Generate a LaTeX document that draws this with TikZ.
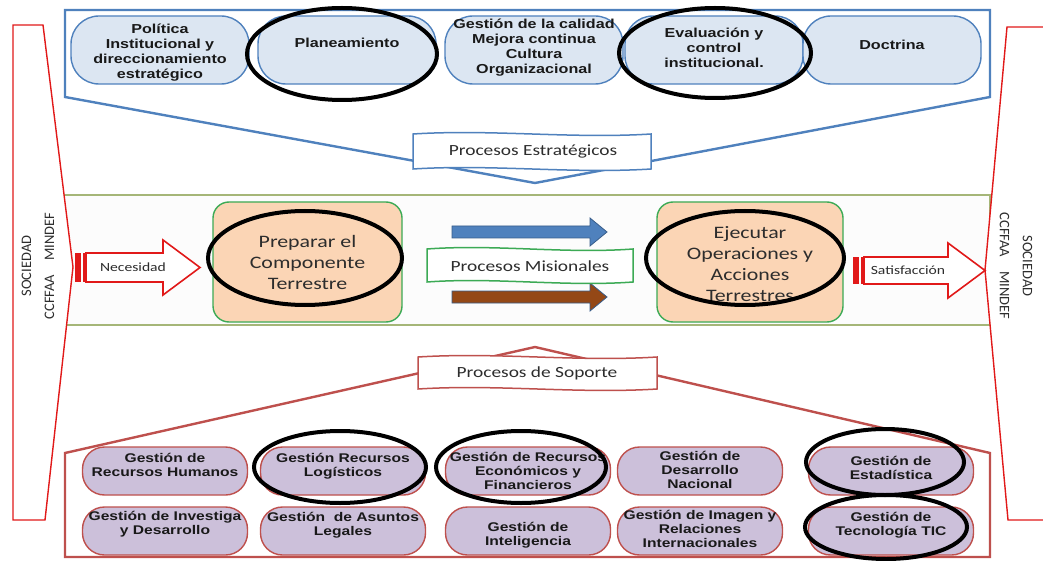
\documentclass[tikz,border=0pt]{standalone}
\usepackage{fontspec}
\setmainfont{Liberation Sans}
\newfontfamily\boxfont[FakeStretch=1.24]{Liberation Sans}
\newfontfamily\calfont[FakeStretch=1.25]{Carlito}
\newfontfamily\vertfont{Carlito}
\usetikzlibrary{shapes.geometric}

\definecolor{stratblue}{RGB}{79,129,189}
\definecolor{stratfill}{RGB}{220,230,242}
\definecolor{bandline}{RGB}{165,182,120}
\definecolor{misgreen}{RGB}{60,170,85}
\definecolor{peach}{RGB}{251,213,181}
\definecolor{sidered}{RGB}{225,25,25}
\definecolor{suprt}{RGB}{190,80,77}
\definecolor{lilac}{RGB}{204,192,218}
\definecolor{arrblue}{RGB}{79,129,189}
\definecolor{arrblueline}{RGB}{56,93,138}
\definecolor{arrbrown}{RGB}{148,72,22}
\definecolor{txtgray}{RGB}{45,45,45}

% wavy banner outline: left x, top y, right x, bottom y, wave amplitude
\newcommand\bannerpath[5]{%
  (#1,#2) .. controls ({#1+(#3-#1)/3},{#2-2*#5}) and ({#1+2*(#3-#1)/3},{#2+2*#5}) .. (#3,#2)
  -- (#3,#4) .. controls ({#1+2*(#3-#1)/3},{#4+2*#5}) and ({#1+(#3-#1)/3},{#4-2*#5}) .. (#1,#4) -- cycle}

\begin{document}
\begin{tikzpicture}[x=1pt,y=-1pt,
  stratbox/.style={draw=stratblue, line width=1.4pt, fill=stratfill,
    rounded corners=28pt, minimum width=178pt, minimum height=68pt, inner sep=0pt},
  stext/.style={font={\boxfont\bfseries\fontsize{13}{15}\selectfont},
    align=center, text=black!90, inner sep=0pt},
  supbox/.style={draw=suprt, line width=1.4pt, fill=lilac,
    rounded corners=22pt, minimum width=165pt, minimum height=48pt, inner sep=0pt},
  suptext/.style={font={\boxfont\bfseries\fontsize{12.6}{13.6}\selectfont},
    align=center, text=black!90, inner sep=0pt},
  misbox/.style={draw=misgreen, line width=1.4pt, fill=peach,
    rounded corners=16pt, minimum height=120pt, inner sep=0pt},
  mistext/.style={font={\calfont\fontsize{17.5}{21}\selectfont},
    align=center, text=txtgray, inner sep=0pt},
  bantext/.style={font={\calfont\fontsize{15.5}{18}\selectfont}, text=txtgray, inner sep=0pt},
  arrtext/.style={font={\calfont\fontsize{12.5}{14}\selectfont}, text=txtgray, inner sep=0pt},
  vtext/.style={font={\vertfont\fontsize{14.5}{23}\selectfont}, align=center,
    text=txtgray, inner sep=0pt},
  hilite/.style={ellipse, draw=black, line width=4pt, inner sep=0pt}
]
\useasboundingbox (0,0) rectangle (1043,561);

% central band of the mission processes
\draw[bandline, line width=1.4pt, fill=black!1] (60,195) rectangle (990,325);

% side panels
\draw[sidered, line width=1.4pt, fill=white]
  (13,25) -- (43,25) -- (73,267) -- (45,520) -- (13,520) -- cycle;
\draw[sidered, line width=1.4pt, fill=white]
  (1007,27) -- (1060,27) -- (1060,520) -- (1008,520) -- (985,270) -- cycle;
\node[vtext, rotate=90] (socl) at (38,266) {SOCIEDAD\\CCFFAA\hspace{14pt}MINDEF};
\node[vtext, rotate=-90] (socr) at (1016,266) {SOCIEDAD\\CCFFAA\hspace{14pt}MINDEF};

% strategic processes panel
\draw[stratblue, line width=2.4pt, fill=white]
  (65,10) -- (990,10) -- (990,97) -- (535,183) -- (65,97) -- cycle;

\node[stratbox] (e1) at (160,50) {};
\node[stratbox] (e2) at (347,50) {};
\node[stratbox] (e3) at (534,50) {};
\node[stratbox] (e4) at (714,50) {};
\node[stratbox] (e5) at (892,50) {};
\node[stext] (e1t) at (160,53) {Política\\Institucional y\\direccionamiento\\estratégico};
\node[stext] (e2t) at (347,43) {Planeamiento};
\node[stext] (e3t) at (534,48) {Gestión de la calidad\\Mejora continua\\Cultura\\Organizacional};
\node[stext] (e4t) at (714,48) {Evaluación y\\control\\institucional.};
\node[stext] (e5t) at (892,45) {Doctrina};

\draw[stratblue, line width=1.5pt, fill=white] \bannerpath{413}{134}{651}{169}{2.5};
\node[bantext] (bestr) at (533,152) {Procesos Estratégicos};

% support processes panel
\draw[suprt, line width=2.4pt, fill=white]
  (535,347) -- (990,453) -- (990,557) -- (65,557) -- (65,453) -- cycle;

\node[supbox] (s11) at (165,471) {};
\node[supbox] (s12) at (343,471) {};
\node[supbox] (s13) at (528,471) {};
\node[supbox] (s14) at (700,471) {};
\node[supbox] (s15) at (891,471) {};
\node[supbox] (s21) at (165,531) {};
\node[supbox] (s22) at (343,531) {};
\node[supbox] (s23) at (528,531) {};
\node[supbox] (s24) at (700,531) {};
\node[supbox] (s25) at (891,531) {};
\node[suptext] (s11t) at (165,465) {Gestión de\\Recursos Humanos};
\node[suptext] (s12t) at (343,466) {Gestión Recursos\\Logísticos};
\node[suptext] (s13t) at (528,471) {Gestión de Recursos\\Económicos y\\Financieros};
\node[suptext] (s14t) at (700,470) {Gestión de\\Desarrollo\\Nacional};
\node[suptext] (s15t) at (891,468) {Gestión de\\Estadística};
\node[suptext] (s21t) at (165,524) {Gestión de Investiga\\y Desarrollo};
\node[suptext] (s22t) at (343,525) {Gestión\ \ de Asuntos\\Legales};
\node[suptext] (s23t) at (528,535) {Gestión de\\Inteligencia};
\node[suptext] (s24t) at (700,529) {Gestión de Imagen y\\Relaciones\\Internacionales};
\node[suptext] (s25t) at (891,525) {Gestión de\\Tecnología TIC};

\draw[suprt, line width=1.5pt, fill=white] \bannerpath{418}{357}{657}{389}{2.5};
\node[bantext] (bsop) at (537,373) {Procesos de Soporte};

% mission processes
\node[misbox, minimum width=189pt] (prep) at (307.5,262) {};
\node[mistext] (prept) at (307.5,262) {Preparar el\\Componente\\Terrestre};
\node[misbox, minimum width=186pt] (ejec) at (750,262) {};
\node[mistext] (eject) at (750,264) {Ejecutar\\Operaciones y\\Acciones\\Terrestres};

\draw[arrblueline, line width=0.8pt, fill=arrblue]
  (452,226) -- (590,226) -- (590,218) -- (607,232) -- (590,246) -- (590,238) -- (452,238) -- cycle;
\draw[arrblueline, line width=0.8pt, fill=arrbrown]
  (452,291) -- (590,291) -- (590,283) -- (607,297) -- (590,311) -- (590,303) -- (452,303) -- cycle;

\draw[misgreen, line width=1.5pt, fill=white] \bannerpath{427}{249}{633}{282}{2.5};
\node[bantext] (bmis) at (530,266) {Procesos Misionales};

% input and output arrows
\fill[sidered] (75,253) rectangle (81,282);
\fill[sidered] (82.5,253) rectangle (85.5,282);
\draw[sidered, line width=1.6pt, fill=white]
  (86,253) -- (163,253) -- (163,240) -- (200,267.5) -- (163,295) -- (163,282) -- (86,282) -- cycle;
\node[arrtext] (nec) at (133,267) {Necesidad};

\fill[sidered] (853,257) rectangle (859,284);
\fill[sidered] (860.5,257) rectangle (863.5,284);
\draw[sidered, line width=1.6pt, fill=white]
  (864,257) -- (948,257) -- (948,243) -- (985,270.5) -- (948,298) -- (948,284) -- (864,284) -- cycle;
\node[arrtext] (sat) at (908,270) {Satisfacción};

% highlighted items
\node[hilite, minimum width=190pt, minimum height=92pt] (h1) at (342,54) {};
\node[hilite, minimum width=192pt, minimum height=90pt] (h2) at (715,53) {};
\node[hilite, minimum width=194pt, minimum height=94pt] (h3) at (305,258) {};
\node[hilite, minimum width=198pt, minimum height=94pt] (h4) at (745,258) {};
\node[hilite, minimum width=172pt, minimum height=72pt] (h5) at (340,467) {};
\node[hilite, minimum width=170pt, minimum height=72pt] (h6) at (521,467) {};
\node[hilite, minimum width=158pt, minimum height=66pt] (h7) at (885,462) {};
\node[hilite, minimum width=162pt, minimum height=64pt] (h8) at (886,527) {};
\end{tikzpicture}
\end{document}
